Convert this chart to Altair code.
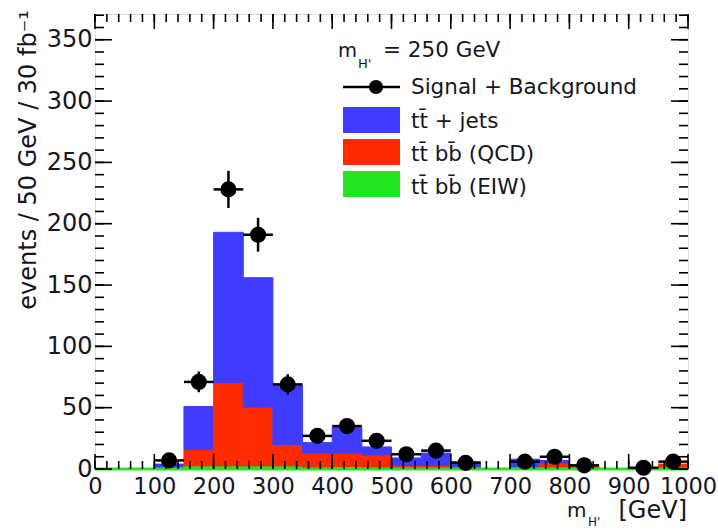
import altair as alt
import pandas as pd

# ---------------- data ----------------
bin_lo = [100, 150, 200, 250, 300, 350, 400, 450, 500, 550, 600, 650, 700, 750, 800, 850, 900, 950]
bin_width = 50
tt_jets   = [3.5, 35.0, 122.5, 105.5, 48.0, 8.5, 21.0, 6.5, 6.0, 10.0, 4.5, 0.0, 7.0, 2.0, 0.0, 0.0, 0.0, 0.0]
ttbb_qcd  = [0.5, 13.5, 68.0, 48.0, 17.5, 12.5, 11.0, 10.5, 2.5, 3.0, 1.5, 0.0, 1.0, 5.0, 2.0, 0.0, 0.0, 4.0]
ttbb_ew   = [0.0, 2.5, 2.5, 2.5, 2.5, 0.5, 2.0, 1.0, 0.5, 0.0, 0.0, 0.0, 0.0, 0.0, 0.0, 0.0, 0.0, 0.0]

pt_x   = [125, 175, 225, 275, 325, 375, 425, 475, 525, 575, 625, 725, 775, 825, 925, 975]
pt_y   = [7, 71, 228, 191, 69, 27, 35, 23, 12, 15, 5, 6, 10, 3, 1, 6]
pt_err = [2.6, 8.4, 15.1, 13.8, 8.3, 5.2, 5.9, 4.8, 3.5, 3.9, 2.2, 2.4, 3.2, 1.7, 1.0, 2.4]

x_major = [0, 100, 200, 300, 400, 500, 600, 700, 800, 900, 1000]
x_minor = list(range(0, 1001, 20))
y_major = [0, 50, 100, 150, 200, 250, 300, 350]
y_minor = list(range(0, 371, 10))

components = ["tt_bb_ew", "tt_bb_qcd", "tt_jets"]
colors = ["#22e622", "#ff2a00", "#3f3cff"]

# ---------------- geometry ----------------
W, H = 593, 455
XMAX, YMAX = 1000, 371
FONT = "DejaVu Sans"
TXT = "#151525"

xs = alt.Scale(domain=[0, XMAX], nice=False, zero=False)
ys = alt.Scale(domain=[0, YMAX], nice=False)

# stacked bars table
rows = []
for i, lo in enumerate(bin_lo):
    base = 0.0
    for name, vals in zip(components, [ttbb_ew, ttbb_qcd, tt_jets]):
        v = vals[i]
        rows.append({"lo": lo, "hi": lo + bin_width, "y0": base, "y1": base + v, "comp": name})
        base += v
bars_df = pd.DataFrame(rows)
bars_df = bars_df[bars_df.y1 > bars_df.y0]

pts_df = pd.DataFrame({"x": pt_x, "y": pt_y, "err": pt_err})
pts_df["lo"] = pts_df.y - pts_df.err
pts_df["hi"] = pts_df.y + pts_df.err
pts_df["xl"] = pts_df.x - bin_width / 2
pts_df["xr"] = pts_df.x + bin_width / 2

x_axis = alt.Axis(values=x_major, format="d", ticks=False, domain=False, grid=False, title=None,
                  labelFontSize=22.5, labelFont=FONT, labelColor=TXT, labelPadding=6, labelFlush=False)
y_axis = alt.Axis(values=y_major, format="d", ticks=False, domain=False, grid=False, title=None,
                  labelFontSize=24, labelFont=FONT, labelColor=TXT, labelPadding=3)

bars = alt.Chart(bars_df).mark_bar(strokeWidth=1).encode(
    x=alt.X("lo:Q", scale=xs, axis=x_axis),
    x2="hi:Q",
    y=alt.Y("y0:Q", scale=ys, axis=y_axis),
    y2="y1:Q",
    color=alt.Color("comp:N", scale=alt.Scale(domain=components, range=colors), legend=None),
    stroke=alt.Color("comp:N", scale=alt.Scale(domain=components, range=colors), legend=None),
)

green_line = alt.Chart(pd.DataFrame({"a": [0]})).mark_rule(color=colors[0], strokeWidth=3).encode(
    x=alt.X(datum=0, scale=xs), x2=alt.X2(datum=XMAX), y=alt.Y(datum=0, scale=ys)
)

ebar_v = alt.Chart(pts_df).mark_rule(color="black", strokeWidth=2.5).encode(
    x=alt.X("x:Q", scale=xs), y=alt.Y("lo:Q", scale=ys), y2="hi:Q")
ebar_h = alt.Chart(pts_df).mark_rule(color="black", strokeWidth=2.5).encode(
    x=alt.X("xl:Q", scale=xs), x2="xr:Q", y=alt.Y("y:Q", scale=ys))
points = alt.Chart(pts_df).mark_point(filled=True, shape="circle", size=260, color="black", opacity=1).encode(
    x=alt.X("x:Q", scale=xs), y=alt.Y("y:Q", scale=ys))

# ---- inside ticks (ROOT style) ----
def xticks(vals, length):
    d = pd.DataFrame({"v": vals})
    bottom = alt.Chart(d).mark_rule(color="black", strokeWidth=1.6).encode(
        x=alt.X("v:Q", scale=xs), y=alt.value(H), y2=alt.value(H - length))
    top = alt.Chart(d).mark_rule(color="black", strokeWidth=1.6).encode(
        x=alt.X("v:Q", scale=xs), y=alt.value(0), y2=alt.value(length))
    return [bottom, top]

def yticks(vals, length):
    d = pd.DataFrame({"v": vals})
    left = alt.Chart(d).mark_rule(color="black", strokeWidth=1.6).encode(
        y=alt.Y("v:Q", scale=ys), x=alt.value(0), x2=alt.value(length))
    right = alt.Chart(d).mark_rule(color="black", strokeWidth=1.6).encode(
        y=alt.Y("v:Q", scale=ys), x=alt.value(W), x2=alt.value(W - length))
    return [left, right]

ticks = xticks(x_major, 15) + xticks(x_minor, 8) + yticks(y_major, 17) + yticks(y_minor, 9)

# ---- text helpers ----
one = pd.DataFrame({"a": [0]})

def txt(s, x, y, size=21.5, align="left", angle=0, baseline="alphabetic"):
    return alt.Chart(one).mark_text(text=s, font=FONT, fontSize=size, color=TXT, align=align,
                                    baseline=baseline, angle=angle).encode(
        x=alt.value(x), y=alt.value(y))

def rect(x1, x2, y1, y2, color):
    return alt.Chart(one).mark_rect(color=color).encode(
        x=alt.value(x1), x2=alt.value(x2), y=alt.value(y1), y2=alt.value(y2))

legend = [
    txt("m", 243, 43, size=19.5), txt("H'", 263, 54, size=13), txt("= 250 GeV", 288, 43),
    alt.Chart(one).mark_rule(color="black", strokeWidth=2.5).encode(
        x=alt.value(248), x2=alt.value(305), y=alt.value(73)),
    alt.Chart(one).mark_point(filled=True, shape="circle", size=200, color="black", opacity=1).encode(
        x=alt.value(281), y=alt.value(73)),
    txt("Signal + Background", 316, 80),
    rect(248, 305, 93, 119, colors[2]), txt("tt\u0304 + jets", 316, 114),
    rect(248, 305, 125, 151, colors[1]), txt("tt\u0304 bb\u0304 (QCD)", 316, 147),
    rect(248, 305, 157, 183, colors[0]), txt("tt\u0304 bb\u0304 (EIW)", 316, 180),
]

titles = [
    txt("events / 50 GeV / 30 fb\u207b\u00b9", -59, -4, size=24, align="right", angle=270),
    txt("m", 472, 503, size=20), txt("H'", 493, 512, size=12), txt("[GeV]", 592, 504, size=24, align="right"),
]

chart = alt.layer(bars, green_line, *ticks, ebar_h, ebar_v, points, *legend, *titles).properties(
    width=W, height=H,
    autosize=alt.AutoSizeParams(type="none"),
    padding={"left": 95, "top": 14, "right": 30, "bottom": 62},
).configure_view(stroke="black", strokeWidth=2).configure(background="white")

chart.save("out.html", embed_options={"renderer": "svg", "actions": False})
